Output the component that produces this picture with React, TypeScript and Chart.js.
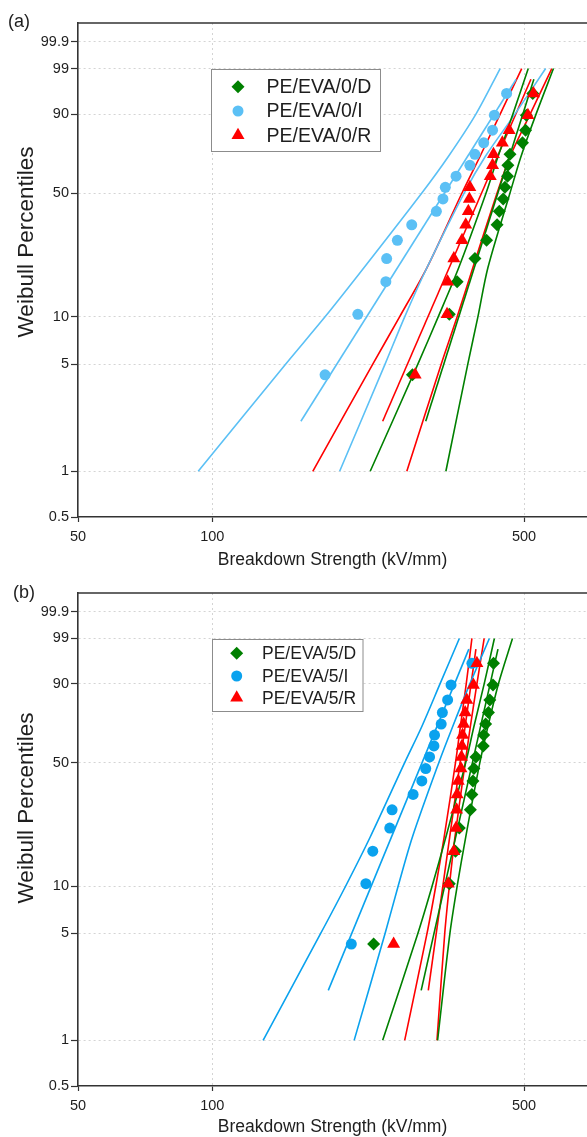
import React, { useEffect, useRef } from 'react';
import { Chart, registerables, LinearScale } from 'chart.js';

// ---------------- data ----------------
// percentiles of the plotted points (median ranks, 16 specimens)
const RANKS = [4.27, 10.37, 16.46, 22.56, 28.66, 34.76, 40.85, 46.95, 53.05, 59.15, 65.24, 71.34, 77.44, 83.54, 89.63, 95.73];
// percentile levels at which the confidence curves were read
const BOUND_P = [1, 5, 10, 20, 50, 70, 90, 99];
// percentile levels of the ends of the fitted lines
const FIT_P = [2.13, 98];

const Y_TICKS = [0.5, 1, 5, 10, 50, 90, 99, 99.9];
const X_TICKS = [50, 100, 500];

// panel (a)
const A_D = [281, 340, 354, 388, 412, 435, 440, 449, 453, 459, 460, 465, 496, 504, 506, 523];
const A_I = [179, 212, 245, 246, 260, 280, 318, 329, 333, 352, 378, 388, 406, 425, 429, 457];
const A_R = [285, 336, 337, 348, 363, 370, 375, 377, 378, 420, 425, 427, 447, 463, 510, 525];
const A_D_FIT = [301, 526];
const A_D_LO = [226, 289, 321, 357, 411, 437, 472, 511];
const A_D_HI = [334, 374, 394, 415, 465, 492, 532, 582];
const A_I_FIT = [158, 480];
const A_I_LO = [93, 146, 179, 219, 295, 338, 390, 442];
const A_I_HI = [193, 244, 270, 303, 367, 409, 477, 559];
const A_R_FIT = [241, 518];
const A_R_LO = [168, 229, 263, 303, 363, 398, 442, 494];
const A_R_HI = [273, 326, 354, 384, 435, 465, 516, 577];

// panel (b)
const B_D = [230, 340, 351, 358, 379, 382, 384, 386, 390, 405, 406, 410, 416, 419, 426, 427];
const B_I = [205, 221, 229, 250, 253, 282, 295, 301, 307, 314, 315, 326, 328, 337, 343, 382];
const B_R = [255, 338, 348, 352, 353, 354, 356, 361, 362, 363, 364, 366, 369, 372, 385, 392];
const B_D_FIT = [294, 437];
const B_D_LO = [241, 289, 311, 334, 370, 386, 407, 429];
const B_D_HI = [320, 341, 354, 370, 398, 415, 438, 471];
const B_I_FIT = [182, 376];
const B_I_LO = [130, 175, 199, 226, 270, 295, 324, 358];
const B_I_HI = [208, 244, 261, 281, 322, 346, 378, 418];
const B_R_FIT = [305, 390];
const B_R_LO = [270, 303, 317, 331, 351, 360, 371, 382];
const B_R_HI = [319, 332, 340, 350, 369, 379, 392, 407];

const LABELS_A = ['PE/EVA/0/D', 'PE/EVA/0/I', 'PE/EVA/0/R'];
const LABELS_B = ['PE/EVA/5/D', 'PE/EVA/5/I', 'PE/EVA/5/R'];

// ---------------- styles ----------------
const GREEN = '#008000';
const RED = '#FF0000';
const BLUE_A = '#5BC0F5';
const BLUE_B = '#0AA2EE';
const FONT = '"Liberation Sans", Arial, sans-serif';
const GRID = '#D4D4D4';
const AXIS = '#333333';
const TEXT = '#1E1E1E';

if (typeof document !== 'undefined') document.body.style.margin = '0';

// Weibull probability scale (y = ln(-ln(1-F)))
const wb = (p: number) => Math.log(-Math.log(1 - p / 100));

class WeibullScale extends LinearScale {
  static id = 'weibull';
  static defaults = {};
  _wbStart = 0;
  _wbEnd = 1;
  determineDataLimits() {
    const o: any = this.options;
    this.min = o.min;
    this.max = o.max;
  }
  buildTicks() {
    return Y_TICKS.map((v) => ({ value: v }));
  }
  configure() {
    super.configure();
    this._wbStart = wb(this.min);
    this._wbEnd = wb(this.max);
  }
  getPixelForValue(value: number) {
    return this.getPixelForDecimal((wb(value) - this._wbStart) / (this._wbEnd - this._wbStart));
  }
  getValueForPixel(pixel: number) {
    const d = this.getDecimalForPixel(pixel);
    const t = this._wbStart + d * (this._wbEnd - this._wbStart);
    return 100 * (1 - Math.exp(-Math.exp(t)));
  }
}

Chart.register(...registerables, WeibullScale as any);

type Series = {
  label: string;
  color: string;
  style: 'rectRot' | 'circle' | 'triangle';
  radius: number;
  pts: number[];
  fit: number[];
  lo: number[];
  hi: number[];
  order: number;
};

type PanelDef = {
  tag: string;
  tagX: number;
  tagY: number;
  height: number;
  xAxisH: number;
  series: Series[];
  legend: { x: number; y: number; w: number; h: number; markerX: number; textX: number; rows: number[]; font: number };
  yTitleY: number;
  xTitleY: number;
};

function drawMarker(ctx: CanvasRenderingContext2D, style: string, x: number, y: number, r: number, color: string) {
  ctx.fillStyle = color;
  ctx.beginPath();
  if (style === 'circle') {
    ctx.arc(x, y, r, 0, Math.PI * 2);
  } else if (style === 'rectRot') {
    ctx.moveTo(x, y - r);
    ctx.lineTo(x + r, y);
    ctx.lineTo(x, y + r);
    ctx.lineTo(x - r, y);
    ctx.closePath();
  } else {
    ctx.moveTo(x, y - r);
    ctx.lineTo(x + r * 0.866, y + r / 2);
    ctx.lineTo(x - r * 0.866, y + r / 2);
    ctx.closePath();
  }
  ctx.fill();
}

function makeDecor(p: PanelDef) {
  return {
    id: 'decor',
    afterDraw(chart: any) {
      const { ctx, chartArea: ca } = chart;
      ctx.save();
      // top frame line
      ctx.strokeStyle = AXIS;
      ctx.lineWidth = 1.6;
      ctx.beginPath();
      ctx.moveTo(ca.left, ca.top);
      ctx.lineTo(chart.width, ca.top);
      ctx.stroke();

      ctx.fillStyle = TEXT;
      // panel tag
      ctx.font = `18px ${FONT}`;
      ctx.textAlign = 'left';
      ctx.textBaseline = 'middle';
      ctx.fillText(p.tag, p.tagX, p.tagY);

      // x title
      ctx.font = `17.5px ${FONT}`;
      ctx.textAlign = 'center';
      ctx.fillText('Breakdown Strength (kV/mm)', (ca.left + ca.right) / 2, p.xTitleY);

      // y title
      ctx.save();
      ctx.translate(27, p.yTitleY);
      ctx.rotate(-Math.PI / 2);
      ctx.font = `22.5px ${FONT}`;
      ctx.textAlign = 'center';
      ctx.fillText('Weibull Percentiles', 0, 0);
      ctx.restore();

      // legend
      const L = p.legend;
      ctx.fillStyle = '#FFFFFF';
      ctx.fillRect(L.x, L.y, L.w, L.h);
      ctx.strokeStyle = '#8C8C8C';
      ctx.lineWidth = 1;
      ctx.strokeRect(L.x + 0.5, L.y + 0.5, L.w, L.h);
      ctx.font = `${L.font}px ${FONT}`;
      ctx.textAlign = 'left';
      ctx.textBaseline = 'middle';
      p.series.forEach((s, i) => {
        drawMarker(ctx, s.style, L.markerX, L.rows[i], s.style === 'triangle' ? 7.5 : s.style === 'circle' ? 5.5 : 6.5, s.color);
        ctx.fillStyle = TEXT;
        ctx.fillText(s.label, L.textX, L.rows[i] + 1);
      });
      ctx.restore();
    },
  };
}

function buildConfig(p: PanelDef): any {
  const datasets: any[] = [];
  p.series.forEach((s) => {
    datasets.push({
      label: s.label,
      data: s.pts.map((x, i) => ({ x, y: RANKS[i] })),
      showLine: false,
      pointStyle: s.style,
      pointRadius: s.radius,
      pointHoverRadius: s.radius,
      backgroundColor: s.color,
      borderColor: s.color,
      pointBorderWidth: 0,
      order: s.order,
    });
  });
  p.series.forEach((s) => {
    [s.lo, s.hi].forEach((arr) => {
      datasets.push({
        data: arr.map((x, i) => ({ x, y: BOUND_P[i] })),
        showLine: true,
        pointRadius: 0,
        borderColor: s.color,
        borderWidth: 1.6,
        tension: 0.3,
        fill: false,
        order: 10,
      });
    });
    datasets.push({
      data: s.fit.map((x, i) => ({ x, y: FIT_P[i] })),
      showLine: true,
      pointRadius: 0,
      borderColor: s.color,
      borderWidth: 1.6,
      fill: false,
      order: 10,
    });
  });

  const tickFont = { family: FONT, size: 14.5 };
  const transparent = 'rgba(0,0,0,0)';

  return {
    type: 'scatter',
    data: { datasets },
    plugins: [makeDecor(p)],
    options: {
      animation: false,
      responsive: false,
      devicePixelRatio: 1,
      events: [],
      layout: { autoPadding: false, padding: { top: 23, right: 0, left: 0, bottom: 0 } },
      plugins: { legend: { display: false }, tooltip: { enabled: false }, title: { display: false } },
      scales: {
        x: {
          type: 'logarithmic',
          min: 50,
          max: 692,
          afterBuildTicks: (s: any) => {
            s.ticks = X_TICKS.map((v) => ({ value: v }));
          },
          afterFit: (s: any) => {
            s.height = p.xAxisH;
            s.paddingRight = 0;
            s.paddingLeft = 0;
          },
          ticks: { callback: (v: any) => String(v), font: tickFont, color: TEXT, padding: 6, autoSkip: false, maxRotation: 0 },
          grid: {
            color: (c: any) => (c.tick && c.tick.value === 50 ? transparent : GRID),
            lineWidth: 1,
            tickColor: AXIS,
            tickLength: 5,
            tickWidth: 1.2,
          },
          border: { display: true, color: AXIS, width: 1.6, dash: [2, 3] },
        },
        y: {
          type: 'weibull',
          min: 0.5,
          max: 99.99,
          afterFit: (s: any) => {
            s.width = 78;
            s.paddingTop = 0;
            s.paddingBottom = 0;
          },
          ticks: { callback: (v: any) => String(v), font: tickFont, color: TEXT, padding: 2, autoSkip: false },
          grid: {
            color: (c: any) => (c.tick && c.tick.value === 0.5 ? transparent : GRID),
            lineWidth: 1,
            tickColor: AXIS,
            tickLength: 7,
            tickWidth: 1.2,
          },
          border: { display: true, color: AXIS, width: 1.6, dash: [2, 3] },
        },
      },
    },
  };
}

const PANEL_A: PanelDef = {
  tag: '(a)',
  tagX: 8,
  tagY: 22,
  height: 570,
  xAxisH: 53,
  yTitleY: 242,
  xTitleY: 560,
  legend: { x: 211, y: 69, w: 169, h: 82, markerX: 238, textX: 266.5, rows: [86.7, 111, 135.3], font: 19.5 },
  series: [
    { label: LABELS_A[0], color: GREEN, style: 'rectRot', radius: 6.5, pts: A_D, fit: A_D_FIT, lo: A_D_LO, hi: A_D_HI, order: 1 },
    { label: LABELS_A[1], color: BLUE_A, style: 'circle', radius: 5.5, pts: A_I, fit: A_I_FIT, lo: A_I_LO, hi: A_I_HI, order: 2 },
    { label: LABELS_A[2], color: RED, style: 'triangle', radius: 7.5, pts: A_R, fit: A_R_FIT, lo: A_R_LO, hi: A_R_HI, order: 0 },
  ],
};

const PANEL_B: PanelDef = {
  tag: '(b)',
  tagX: 13,
  tagY: 23.5,
  height: 567,
  xAxisH: 51,
  yTitleY: 238,
  xTitleY: 557,
  legend: { x: 212, y: 69, w: 150.5, h: 72, markerX: 236.7, textX: 262, rows: [83.3, 106, 127.7], font: 17.5 },
  series: [
    { label: LABELS_B[0], color: GREEN, style: 'rectRot', radius: 6.5, pts: B_D, fit: B_D_FIT, lo: B_D_LO, hi: B_D_HI, order: 1 },
    { label: LABELS_B[1], color: BLUE_B, style: 'circle', radius: 5.5, pts: B_I, fit: B_I_FIT, lo: B_I_LO, hi: B_I_HI, order: 2 },
    { label: LABELS_B[2], color: RED, style: 'triangle', radius: 7.5, pts: B_R, fit: B_R_FIT, lo: B_R_LO, hi: B_R_HI, order: 0 },
  ],
};

function Panel({ def }: { def: PanelDef }) {
  const ref = useRef<HTMLCanvasElement | null>(null);
  useEffect(() => {
    if (!ref.current) return;
    const chart = new Chart(ref.current, buildConfig(def));
    return () => chart.destroy();
  }, [def]);
  return (
    <canvas
      ref={ref}
      width={587}
      height={def.height}
      style={{ display: 'block', width: '587px', height: `${def.height}px` }}
    />
  );
}

export default function App() {
  return (
    <div style={{ width: 587, background: '#ffffff' }}>
      <Panel def={PANEL_A} />
      <Panel def={PANEL_B} />
    </div>
  );
}
